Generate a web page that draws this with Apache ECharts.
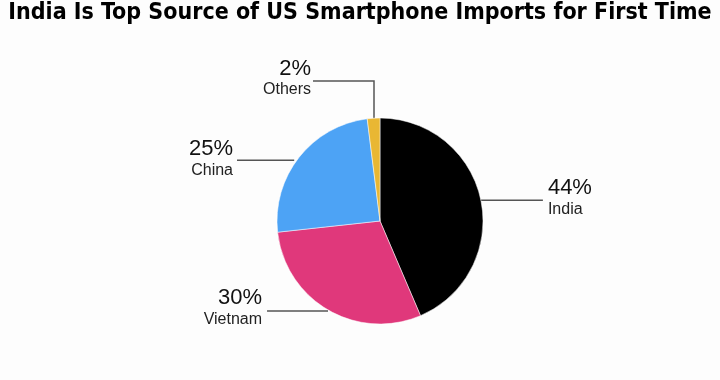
<!DOCTYPE html>
<html><head><meta charset="utf-8">
<script src="https://cdn.jsdelivr.net/npm/echarts@6/dist/echarts.min.js"></script>
<style>html,body{margin:0;padding:0;background:#fdfdfd}#c{width:720px;height:380px}</style>
</head><body><div id="c"></div>
<script>
const titleText = 'India Is Top Source of US Smartphone Imports for First Time';
const categories = ['India', 'Vietnam', 'China', 'Others'];
const shares = [44, 30, 25, 2];
const colors = ['#000000', '#E0387B', '#4DA3F5', '#E9B733'];

const chart = echarts.init(document.getElementById('c'));
const layouts = {
  India:   s => ({ x: s[0] + 67, y: s[1] - 3, align: 'left', pts: [s, [s[0] + 62, s[1]], [s[0] + 62, s[1]]] }),
  Vietnam: s => ({ x: s[0] - 66, y: s[1] - 2, align: 'right', pts: [[s[0], s[1] + 1], [s[0] - 61, s[1] + 1], [s[0] - 61, s[1] + 1]] }),
  China:   s => ({ x: 233, y: s[1] + 1, align: 'right', pts: [[s[0] - 5, s[1] + 3], [237, s[1] + 3], [237, s[1] + 3]] }),
  Others:  s => ({ x: 311, y: 78, align: 'right', pts: [[374, s[1]], [374, 81], [313, 81]] })
};
chart.setOption({
  backgroundColor: '#fdfdfd',
  title: {
    text: titleText, left: 'center', top: -3,
    textStyle: { fontFamily: 'DejaVu Sans Condensed', fontWeight: 'bold', fontSize: 23, color: '#000' }
  },
  series: [{
    type: 'pie',
    center: [380, 221],
    radius: 103,
    startAngle: 90,
    clockwise: true,
    animation: false,
    itemStyle: { borderColor: '#ffffff', borderWidth: 0.5 },
    data: categories.map((c, i) => ({ name: c, value: shares[i], itemStyle: { color: colors[i] } })),
    label: {
      show: true,
      formatter: p => '{p|' + p.value + '%}\n{n|' + p.name + '}',
      rich: {
        p: { fontFamily: 'Liberation Sans', fontSize: 22, color: '#111', lineHeight: 24 },
        n: { fontFamily: 'Liberation Sans', fontSize: 16, color: '#222', lineHeight: 19 }
      }
    },
    labelLine: { show: true, length: 20, length2: 20, lineStyle: { color: '#555', width: 1.5 } },
    labelLayout: function (p) {
      const name = categories[p.dataIndex];
      const s = p.labelLinePoints[0];
      const l = layouts[name](s);
      return { x: l.x, y: l.y, align: l.align, verticalAlign: 'middle', labelLinePoints: l.pts };
    }
  }]
});
</script></body></html>
